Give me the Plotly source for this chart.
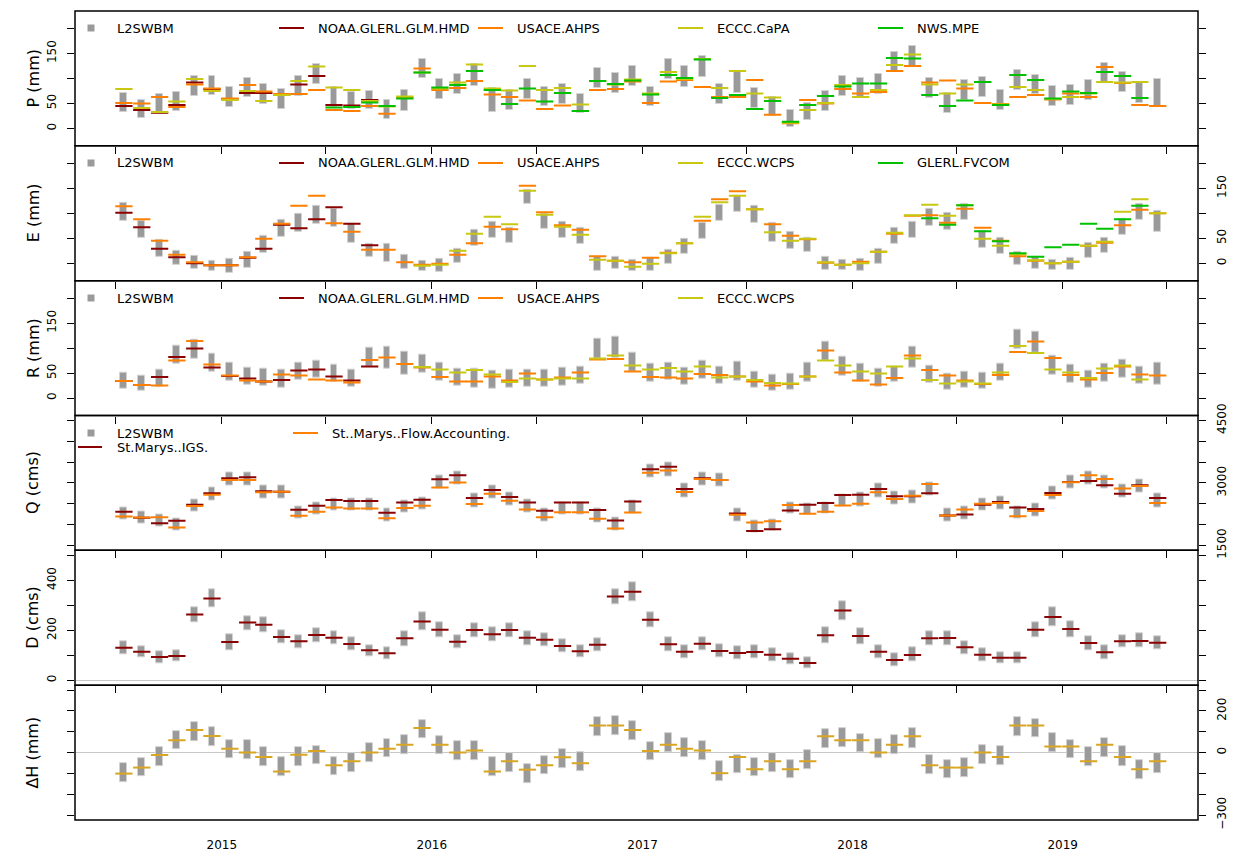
import pandas as pd
import plotly.graph_objects as go
from plotly.subplots import make_subplots

# ---------------------------------------------------------------- data
months = pd.date_range("2014-07-01", periods=60, freq="MS")
mid = months + pd.Timedelta(days=14)
N = None

# Precipitation (mm)
P_lo = [32, 20, 29, 35, 65, 67, 43, 63, 49, 38, 65, 88, 42, 39, 39, 19, 35, 100, 59, 69,
        85, 33, 37, 59, 45, 49, 31, 80, 70, 85, 45, 98, 83, 103, 49, 70, 40, 25, 2, 16,
        35, 65, 60, 68, 113, 125, 61, 30, 57, 62, 37, 77, 68, 45, 47, 56, 93, 72, 50, 45]
P_hi = [70, 57, 68, 73, 105, 105, 82, 101, 89, 78, 104, 128, 82, 72, 75, 57, 76, 139, 98, 109,
        128, 80, 77, 98, 83, 88, 69, 121, 111, 125, 83, 138, 125, 145, 88, 115, 80, 63, 37, 51,
        75, 105, 100, 108, 153, 165, 101, 70, 97, 102, 77, 117, 107, 85, 87, 97, 131, 113, 93, 98]
P_noaa = [45, 37, 31, 47, 92, 79, 59, 71, 71, 67, 88, 105, 47, 46, 57] + [N] * 45
P_usace = [51, 50, 63, 43, 88, 80, 60, 87, 74, 69, 69, 77, 37, 35, 45, 29, 62, 120, 77, 81,
           95, 68, 63, 56, 39, 46, 35, 77, 79, 94, 51, 94, 97, 83, 63, 63, 97, 27, 10, 57,
           50, 79, 70, 73, 115, 125, 92, 96, 80, 51, 49, 63, 67, 58, 70, 63, 123, 91, 47, 45]
P_capa = [79, 41, 33, 54, 99, 75, 57, 75, 55, 67, 95, 124, 82, 77, 55, 44, 64, 112, 80, 92,
          128, 80, 76, 125, 77, 81, 48, 95, 88, 98, 70, 113, 99, 139, 81, 115, 70, 62, 11, 37,
          51, 87, 63, 77, 127, 148, 88, 70, 88, 93, 48, 83, 77, 59, 63, 70, 93, 92, 93, N]
P_mpe = [N] * 12 + [42, 43, 52, 45, 60, 112, 82, 87,
                    115, 77, 49, 80, 54, 71, 35, 95, 89, 96, 68, 107, 101, 138, 61, 67, 39, 55, 13, 47,
                    65, 84, 90, 90, 141, 140, 67, 45, 56, 93, 47, 107, 97, 60, 74, 71, 113, 105, 61, N]

# Evaporation (mm)
E_lo = [85, 50, 13, -4, -11, -15, -19, -9, 21, 52, 63, 79, 73, 41, 13, 3, -12, -15, -17, 0,
        35, 50, 41, 119, 69, 50, 39, -15, -11, -15, -15, -2, 18, 49, 85, 103, 81, 43, 29, 23,
        -13, -14, -16, -1, 38, 50, 75, 67, 87, 30, 19, -4, -11, -13, -13, 11, 20, 57, 87, 63]
E_hi = [120, 84, 47, 25, 15, 5, 8, 23, 55, 87, 98, 115, 109, 78, 39, 38, 16, 5, 8, 29,
        67, 82, 71, 147, 99, 83, 71, 13, 13, 7, 10, 27, 48, 81, 117, 135, 115, 80, 63, 50,
        13, 7, 8, 28, 70, 82, 108, 100, 119, 65, 51, 23, 13, 7, 10, 40, 51, 89, 119, 105]
E_noaa = [101, 72, 29, 12, 0, -4, -4, 11, 29, 77, 70, 88, 112, 79, 36] + [N] * 45
E_usace = [114, 88, 45, 17, 2, -4, -4, 12, 49, 79, 115, 135, 80, 63, 27, 27, 2, -3, -1, 17,
           40, 73, 68, 155, 102, 76, 67, 14, 5, 2, 11, 21, 40, 85, 128, 144, 108, 78, 55, 48,
           1, -3, 3, 23, 59, 95, 96, 81, 109, 71, 45, 14, 5, 0, 3, 35, 41, 76, 107, 100]
E_wcps = [N] * 17 + [-5, -3, 25,
                     59, 93, 78, 145, 97, 73, 57, 7, 5, -7, -1, 20, 40, 93, 122, 135, 108, 62, 45, 49,
                     2, -3, 0, 23, 61, 96, 117, 95, 116, 49, 35, 18, 6, 0, 3, 35, 43, 103, 128, 100]
E_fvcom = [N] * 46 + [90, 77, 116, 64, 44, 20, 13, 32, 37, 79, 69, 88, 115, N]

# Runoff (mm)
R_lo = [19, 15, 23, 69, 79, 53, 35, 27, 25, 21, 37, 40, 32, 23, 63, 59, 47, 50, 35, 25,
        21, 18, 21, 23, 22, 25, 28, 78, 80, 53, 33, 37, 27, 39, 28, 35, 20, 15, 17, 32,
        75, 45, 33, 23, 32, 61, 30, 17, 21, 18, 35, 99, 90, 47, 31, 20, 33, 41, 28, 27]
R_hi = [51, 45, 57, 105, 117, 89, 70, 60, 59, 56, 71, 75, 67, 57, 101, 102, 92, 87, 70, 59,
        59, 55, 57, 57, 56, 60, 63, 119, 122, 90, 69, 71, 61, 75, 63, 73, 53, 47, 48, 70,
        113, 83, 68, 58, 63, 103, 65, 49, 53, 51, 69, 137, 133, 85, 67, 55, 69, 77, 63, 70]
R_noaa = [34, 26, 42, 82, 99, 61, 44, 39, 33, 36, 55, 57, 43, 35, 63] + [N] * 45
R_usace = [34, 26, 25, 75, 114, 67, 45, 35, 33, 47, 45, 37, 35, 31, 76, 81, 68, 61, 42, 33,
           33, 43, 35, 49, 37, 41, 51, 77, 78, 53, 42, 41, 39, 48, 46, 43, 33, 25, 28, 43,
           95, 51, 35, 27, 40, 85, 56, 45, 35, 28, 46, 92, 113, 80, 46, 37, 50, 63, 47, 45]
R_wcps = [N] * 17 + [62, 57, 51,
                     56, 47, 32, 39, 37, 39, 39, 79, 85, 65, 57, 60, 53, 63, 41, 43, 36, 30, 29, 43,
                     75, 65, 53, 49, 63, 79, 36, 29, 33, 29, 51, 104, 90, 57, 51, 40, 59, 65, 37, N]

# Outflow through the St. Marys River (cms)
Q_lo = [2113, 2032, 1952, 1855, 2315, 2581, 2944, 2944, 2637, 2637, 2137, 2234, 2339, 2331, 2331,
        2073, 2282, 2355, 2871, 2960, 2419, 2637, 2460, 2290, 2073, 2250, 2250, 2056, 1855, 2274,
        3121, 3161, 2661, 2944, 2919, 2081, 1815, 1855, 2258, 2234, 2274, 2435, 2435, 2661, 2492,
        2500, 2694, 2073, 2129, 2339, 2371, 2153, 2194, 2597, 2863, 2960, 2855, 2653, 2774, 2419]
Q_hi = [2411, 2315, 2234, 2145, 2613, 2879, 3242, 3242, 2944, 2944, 2435, 2532, 2629, 2621, 2621,
        2395, 2573, 2661, 3185, 3266, 2734, 2944, 2774, 2597, 2395, 2532, 2532, 2379, 2161, 2581,
        3444, 3484, 2984, 3258, 3226, 2395, 2097, 2129, 2540, 2500, 2532, 2718, 2758, 2976, 2798,
        2823, 3016, 2395, 2435, 2637, 2677, 2435, 2500, 2903, 3185, 3282, 3177, 2960, 3081, 2734]
Q_igs = [2306, 2161, 2032, 2089, 2476, 2750, 3113, 3137, 2798, 2790, 2355, 2452, 2589, 2564, 2564,
         2282, 2532, 2597, 3089, 3185, 2637, 2831, 2661, 2532, 2331, 2532, 2532, 2347, 2097, 2556,
         3331, 3387, 2855, 3113, 3073, 2266, 1847, 1887, 2339, 2476, 2516, 2710, 2718, 2855, 2677,
         2677, 2750, 2218, 2242, 2476, 2540, 2411, 2371, 2758, 3024, 3048, 2944, 2742, 2944, 2637]
Q_flow = [2194, 2169, 2177, 1927, 2444, 2718, 3073, 3073, 2774, 2790, 2210, 2306, 2411, 2387, 2387,
          2153, 2395, 2452, 2887, 3008, 2492, 2742, 2573, 2363, 2177, 2298, 2298, 2137, 1903, 2290,
          3242, 3298, 2782, 3097, 3073, 2234, 2048, 2081, 2468, 2258, 2306, 2460, 2500, 2774, 2613,
          2694, 2976, 2218, 2363, 2500, 2516, 2202, 2323, 2710, 3016, 3185, 3097, 2863, 2927, 2516]

# Diversion (cms)
D_lo = [104, 90, 68, 74, 230, 290, 121, 200, 190, 146, 128, 153, 144, 120, 94, 84, 134, 200, 170, 126,
        173, 156, 173, 141, 134, 113, 90, 117, 303, 317, 210, 117, 88, 120, 90, 84, 88, 77, 64, 48,
        148, 241, 144, 86, 55, 74, 140, 140, 104, 77, 66, 66, 170, 215, 173, 120, 84, 130, 130, 124]
D_hi = [154, 137, 114, 121, 290, 363, 184, 257, 250, 200, 181, 207, 197, 170, 141, 130, 194, 270, 233, 181,
        226, 210, 226, 197, 186, 162, 140, 166, 363, 390, 273, 173, 141, 173, 144, 136, 140, 126, 108, 93,
        210, 314, 209, 141, 108, 130, 194, 194, 157, 126, 112, 112, 230, 290, 234, 177, 140, 181, 186, 177]
D_obs = [130, 114, 93, 97, 263, 327, 153, 231, 222, 173, 156, 181, 170, 145, 120, 108, 168, 235, 202, 154,
         201, 184, 201, 170, 162, 137, 116, 142, 335, 354, 242, 144, 114, 146, 117, 109, 113, 102, 86, 69,
         180, 279, 177, 114, 81, 101, 168, 169, 132, 102, 90, 90, 202, 253, 205, 149, 112, 156, 157, 150]

# Change in lake storage (mm)
H_lo = [-141, -115, -64, 16, 54, 32, -29, -32, -64, -115, -64, -56, -107, -93, -45, -24, -8, 67, -8, -37,
        -35, -115, -93, -147, -104, -77, -90, 80, 83, 61, -35, 0, -24, -35, -136, -101, -115, -93, -125, -80,
        21, 27, 0, -29, -8, 21, -104, -123, -117, -56, -61, 80, 72, 0, -29, -64, -21, -64, -128, -101]
H_hi = [-51, -27, 27, 104, 147, 120, 59, 61, 27, -22, 24, 32, -21, -3, 45, 64, 83, 155, 80, 56,
        56, -24, -3, -56, -16, 16, 0, 168, 176, 152, 51, 93, 67, 56, -43, -10, -26, -3, -35, 11,
        112, 117, 88, 64, 85, 115, -11, -35, -27, 37, 32, 168, 163, 93, 61, 27, 69, 29, -35, -5]
H_obs = [-101, -72, -11, 59, 109, 80, 19, 0, -21, -91, -10, 8, -61, -42, 0, 19, 38, 118, 38, 0,
         10, -91, -42, -82, -61, -22, -51, 130, 130, 109, 8, 38, 19, 10, -99, -21, -80, -42, -80, -42,
         78, 59, 59, 0, 38, 78, -61, -72, -72, 0, -21, 130, 130, 29, 29, -42, 38, -21, -80, -42]

# ---------------------------------------------------------------- style
GRAY = "#9a9a9a"
DARKRED = "#8b0000"
ORANGE = "#ff8000"
OLIVE = "#c8c812"
GREEN = "#00c000"
GOLD = "#daa520"
FONT = "DejaVu Sans"

W, H = 1233, 852
ML, MR, MT, MB = 75, 35, 11, 32
PW, PH = W - ML - MR, H - MT - MB

HALF = pd.Timedelta(days=15)
BAR_MS = 12 * 24 * 3600 * 1000

fig = make_subplots(rows=6, cols=1, shared_xaxes=True, vertical_spacing=0)


def add_ci(row, lo, hi):
    fig.add_trace(go.Bar(x=mid, y=[h - l for l, h in zip(lo, hi)], base=lo, width=BAR_MS,
                         marker=dict(color=GRAY, line=dict(color="#d2d2d2", width=1)),
                         showlegend=False, hoverinfo="skip"), row=row, col=1)


def add_segments(row, vals, color, name):
    xs, ys = [], []
    for d, v in zip(mid, vals):
        if v is None:
            continue
        xs += [d - HALF, d + HALF, None]
        ys += [v, v, None]
    fig.add_trace(go.Scatter(x=xs, y=ys, mode="lines", name=name,
                             line=dict(color=color, width=2), showlegend=False),
                  row=row, col=1)


add_ci(1, P_lo, P_hi)
add_segments(1, P_noaa, DARKRED, "NOAA.GLERL.GLM.HMD")
add_segments(1, P_usace, ORANGE, "USACE.AHPS")
add_segments(1, P_capa, OLIVE, "ECCC.CaPA")
add_segments(1, P_mpe, GREEN, "NWS.MPE")

add_ci(2, E_lo, E_hi)
add_segments(2, E_noaa, DARKRED, "NOAA.GLERL.GLM.HMD")
add_segments(2, E_usace, ORANGE, "USACE.AHPS")
add_segments(2, E_wcps, OLIVE, "ECCC.WCPS")
add_segments(2, E_fvcom, GREEN, "GLERL.FVCOM")

add_ci(3, R_lo, R_hi)
add_segments(3, R_noaa, DARKRED, "NOAA.GLERL.GLM.HMD")
add_segments(3, R_usace, ORANGE, "USACE.AHPS")
add_segments(3, R_wcps, OLIVE, "ECCC.WCPS")

add_ci(4, Q_lo, Q_hi)
add_segments(4, Q_igs, DARKRED, "St.Marys..IGS.")
add_segments(4, Q_flow, ORANGE, "St..Marys..Flow.Accounting.")

add_ci(5, D_lo, D_hi)
add_segments(5, D_obs, DARKRED, "D")

add_ci(6, H_lo, H_hi)
add_segments(6, H_obs, GOLD, "dH")

# ---------------------------------------------------------------- axes
half_years = pd.date_range("2014-07-01", "2019-07-01", freq="6MS")
x_range = ["2014-04-21", "2019-08-24"]
for r in range(1, 7):
    fig.update_xaxes(row=r, col=1, type="date", range=x_range, showgrid=False,
                     showline=False, tickvals=list(half_years), ticks="outside", ticklen=7,
                     tickcolor="black", showticklabels=False, zeroline=False)

years = [2015, 2016, 2017, 2018, 2019]
fig.update_xaxes(row=6, col=1, tickvals=[f"{y}-01-01" for y in years],
                 ticktext=[str(y) for y in years], showticklabels=True,
                 ticklen=14, tickcolor="rgba(0,0,0,0)", tickfont=dict(size=12))

mm_ticks = [0, 50, 100, 150, 200]
mm_text = ["0", "50", "", "150", ""]
yconf = [
    dict(range=[-35, 235], tickvals=mm_ticks, ticktext=mm_text, side="left"),
    dict(range=[-35, 235], tickvals=mm_ticks, ticktext=mm_text, side="right"),
    dict(range=[-35, 235], tickvals=mm_ticks, ticktext=mm_text, side="left"),
    dict(range=[1380, 4620], tickvals=list(range(1500, 4501, 500)),
         ticktext=["1500", "", "", "3000", "", "", "4500"], side="right"),
    dict(range=[-20, 520], tickvals=list(range(0, 501, 100)),
         ticktext=["0", "", "200", "", "400", ""], side="left", zeroline=True),
    dict(range=[-324, 324], tickvals=list(range(-300, 301, 100)),
         ticktext=["\u2212300", "", "", "0", "", "200", ""], side="right", zeroline=True),
]
for r, c in enumerate(yconf, start=1):
    zl = c.pop("zeroline", False)
    fig.update_yaxes(row=r, col=1, showgrid=False, showline=False, mirror="ticks",
                     ticks="outside", ticklen=7,
                     tickcolor="black", tickangle=-90, tickfont=dict(size=12),
                     ticklabelstandoff=6, zeroline=zl, zerolinecolor="#c8c8c8",
                     zerolinewidth=1, **c)

# ---------------------------------------------------------------- annotations & legends
def px(xp):
    return (xp - ML) / PW


def py(yp):
    return (MT + PH - yp) / PH


annotations = []
shapes = []

# panel frames (shared edges drawn once, so they stay thin)
for r in range(1, 7):
    suffix = "" if r == 1 else str(r)
    shapes.append(dict(type="rect", xref=f"x{suffix} domain", yref=f"y{suffix} domain",
                       x0=0, x1=1, y0=0, y1=1, line=dict(color="black", width=1.5),
                       fillcolor="rgba(0,0,0,0)", layer="above"))

titles = ["P (mm)", "E (mm)", "R (mm)", "Q (cms)", "D (cms)", "\u0394H (mm)"]
panel_h = PH / 6
for i, t in enumerate(titles):
    yc = MT + panel_h * (i + 0.5)
    annotations.append(dict(text=t, x=px(33), y=py(yc), xref="paper", yref="paper",
                            textangle=-90, showarrow=False, xanchor="center", yanchor="middle",
                            font=dict(size=16, color="black")))


def legend_square(x, y, label, text_x):
    shapes.append(dict(type="rect", xref="paper", yref="paper",
                       x0=px(x - 3.5), x1=px(x + 3.5), y0=py(y + 3.5), y1=py(y - 3.5),
                       fillcolor=GRAY, line=dict(width=0)))
    annotations.append(dict(text=label, x=px(text_x), y=py(y), xref="paper", yref="paper",
                            showarrow=False, xanchor="left", yanchor="middle",
                            font=dict(size=13, color="black")))


def legend_line(x0, x1, y, color, label, text_x):
    shapes.append(dict(type="line", xref="paper", yref="paper",
                       x0=px(x0), x1=px(x1), y0=py(y), y1=py(y),
                       line=dict(color=color, width=2)))
    annotations.append(dict(text=label, x=px(text_x), y=py(y), xref="paper", yref="paper",
                            showarrow=False, xanchor="left", yanchor="middle",
                            font=dict(size=13, color="black")))


panel_legends = [
    (28, [("NOAA.GLERL.GLM.HMD", DARKRED), ("USACE.AHPS", ORANGE),
          ("ECCC.CaPA", OLIVE), ("NWS.MPE", GREEN)]),
    (163, [("NOAA.GLERL.GLM.HMD", DARKRED), ("USACE.AHPS", ORANGE),
           ("ECCC.WCPS", OLIVE), ("GLERL.FVCOM", GREEN)]),
    (298, [("NOAA.GLERL.GLM.HMD", DARKRED), ("USACE.AHPS", ORANGE),
           ("ECCC.WCPS", OLIVE)]),
]
line_starts = [279, 478, 678, 878]
for ly, entries in panel_legends:
    legend_square(91, ly, "L2SWBM", 115)
    for (label, color), x0 in zip(entries, line_starts):
        legend_line(x0, x0 + 25, ly, color, label, x0 + 37)

legend_square(91, 433, "L2SWBM", 115)
legend_line(293, 318, 433, ORANGE, "St..Marys..Flow.Accounting.", 330)
legend_line(78, 102, 447, DARKRED, "St.Marys..IGS.", 115)

fig.update_layout(
    width=W, height=H,
    margin=dict(l=ML, r=MR, t=MT, b=MB, autoexpand=False),
    paper_bgcolor="white", plot_bgcolor="white",
    font=dict(family=FONT, size=12, color="black"),
    showlegend=False, bargap=0,
    annotations=annotations, shapes=shapes,
)

fig.write_html("out.html")
